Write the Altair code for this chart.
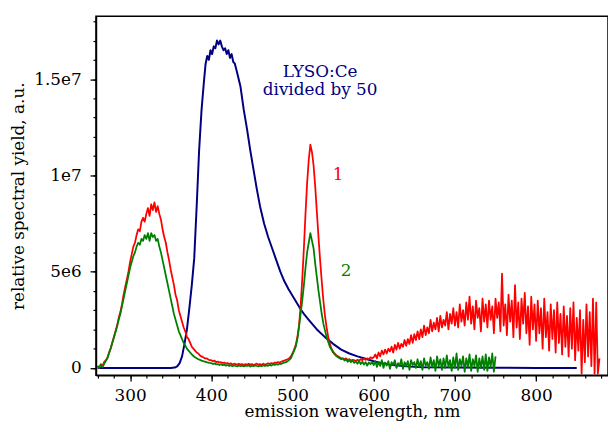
import altair as alt
import pandas as pd

# ---------------- data (values in units of 1e6) ----------------
red_wl = list(range(260, 880, 2))      # 260 .. 878 nm
red_y = [
    0.1, 0.0, 0.2, 0.1, 0.3, 0.4, 0.5, 0.8, 1.0, 1.3,
    1.6, 1.9, 2.2, 2.6, 2.9, 3.3, 3.8, 4.2, 4.6, 5.0,
    5.5, 5.9, 6.3, 6.5, 6.9, 7.2, 7.1, 7.6, 7.8, 7.6,
    8.0, 8.3, 7.9, 8.5, 8.2, 8.6, 8.1, 8.4, 8.0, 7.7,
    7.2, 6.8, 6.5, 6.0, 5.6, 5.1, 4.7, 4.3, 3.8, 3.5,
    3.0, 2.7, 2.4, 2.1, 1.9, 1.6, 1.5, 1.3, 1.1, 1.0,
    0.9, 0.8, 0.75, 0.65, 0.6, 0.55, 0.5, 0.5, 0.45, 0.4,
    0.4, 0.35, 0.38, 0.3, 0.33, 0.28, 0.3, 0.25, 0.28, 0.22,
    0.25, 0.2, 0.24, 0.18, 0.22, 0.2, 0.16, 0.22, 0.18, 0.2,
    0.15, 0.2, 0.17, 0.22, 0.16, 0.2, 0.14, 0.19, 0.22, 0.16,
    0.2, 0.15, 0.22, 0.18, 0.2, 0.24, 0.2, 0.25, 0.22, 0.28,
    0.26, 0.3, 0.28, 0.32, 0.35, 0.38, 0.42, 0.45, 0.5, 0.6,
    0.75, 0.95, 1.2, 1.6, 2.2, 3.2, 4.6, 6.2, 8.0, 9.6,
    10.8, 11.6, 11.2, 10.5, 9.4, 8.1, 6.8, 5.6, 4.5, 3.5,
    2.7, 2.1, 1.6, 1.25, 1.0, 0.85, 0.75, 0.65, 0.6, 0.55,
    0.5, 0.48, 0.45, 0.5, 0.42, 0.45, 0.38, 0.42, 0.4, 0.36,
    0.42, 0.38, 0.45, 0.4, 0.48, 0.42, 0.5, 0.45, 0.55, 0.5,
    0.55, 0.7, 0.5, 0.8, 0.6, 0.9, 0.7, 0.95, 0.75, 1.0,
    0.85, 1.1, 0.8, 1.2, 0.95, 1.3, 1.0, 1.25, 1.1, 1.45,
    1.15, 1.5, 1.25, 1.7, 1.3, 1.75, 1.45, 1.9, 1.5, 2.0,
    1.6, 2.2, 1.7, 2.1, 1.8, 2.5, 1.9, 2.35, 2.0, 2.6,
    1.9, 2.7, 2.1, 2.5, 2.2, 2.9, 2.0, 2.8, 2.3, 3.1,
    2.2, 2.9, 2.1, 3.3, 2.4, 3.0, 2.2, 3.4, 2.5, 3.7,
    2.3, 3.2, 2.0, 3.5, 2.6, 3.1, 1.9, 3.6, 2.4, 3.3,
    2.1, 3.5, 2.5, 3.2, 1.8, 3.6, 2.6, 3.4, 1.9, 4.9,
    2.2, 3.3, 1.7, 3.8, 2.4, 3.5, 1.6, 4.3, 2.1, 3.4,
    1.5, 3.6, 2.3, 3.9, 1.8, 3.2, 1.2, 3.7, 2.0, 3.3,
    1.4, 3.5, 1.8, 3.1, 1.0, 3.6, 1.6, 2.9, 0.9, 3.3,
    1.5, 3.0, 0.8, 3.4, 1.3, 2.8, 0.7, 3.2, 1.1, 2.7,
    0.6, 3.1, 1.0, 3.4, 0.4, 2.6, 0.9, 3.0, -0.3, 2.5,
    0.3, 3.3, 0.6, 2.9, 0.1, 3.6, -0.3, 3.4, -0.3, 0.5,
]

green_wl = list(range(260, 752, 2))    # 260 .. 750 nm
green_y = [
    0.1, 0.0, 0.15, 0.05, 0.2, 0.35, 0.5, 0.75, 1.0, 1.3,
    1.55, 1.85, 2.15, 2.5, 2.8, 3.2, 3.6, 4.0, 4.4, 4.8,
    5.2, 5.5, 5.8, 6.0, 6.3, 6.5, 6.4, 6.7, 6.6, 6.9,
    6.7, 7.0, 6.6, 7.0, 6.8, 6.9, 6.6, 6.7, 6.3, 6.0,
    5.6, 5.2, 4.8, 4.4, 4.0, 3.6, 3.2, 2.8, 2.5, 2.2,
    1.9, 1.7, 1.5, 1.3, 1.15, 1.0, 0.9, 0.8, 0.7, 0.62,
    0.55, 0.5, 0.45, 0.42, 0.38, 0.35, 0.33, 0.3, 0.28, 0.26,
    0.25, 0.2, 0.24, 0.18, 0.2, 0.15, 0.19, 0.14, 0.17, 0.12,
    0.15, 0.1, 0.14, 0.09, 0.13, 0.1, 0.08, 0.13, 0.09, 0.12,
    0.08, 0.12, 0.1, 0.14, 0.07, 0.12, 0.09, 0.13, 0.1, 0.08,
    0.12, 0.09, 0.14, 0.1, 0.13, 0.11, 0.16, 0.12, 0.18, 0.15,
    0.2, 0.17, 0.22, 0.2, 0.25, 0.28, 0.3, 0.35, 0.42, 0.5,
    0.7, 0.9, 1.1, 1.5, 2.1, 2.8, 3.5, 4.3, 5.2, 6.0,
    6.5, 7.0, 6.6, 6.2, 5.4, 4.7, 4.0, 3.4, 2.8, 2.3,
    1.95, 1.6, 1.35, 1.1, 0.95, 0.8, 0.7, 0.62, 0.55, 0.5,
    0.45, 0.5, 0.38, 0.45, 0.32, 0.4, 0.3, 0.38, 0.26, 0.34,
    0.22, 0.36, 0.2, 0.32, 0.18, 0.3, 0.12, 0.28, 0.2, 0.3,
    0.15, 0.35, 0.05, 0.3, 0.1, 0.4, 0.0, 0.28, 0.12, 0.35,
    -0.05, 0.3, 0.15, 0.4, 0.0, 0.25, 0.1, 0.45, -0.05, 0.3,
    0.1, 0.35, -0.1, 0.4, 0.15, 0.3, 0.0, 0.45, 0.05, 0.35,
    -0.1, 0.5, 0.1, 0.3, -0.05, 0.55, 0.05, 0.4, -0.15, 0.6,
    0.1, 0.45, -0.1, 0.5, 0.0, 0.65, 0.05, 0.4, -0.15, 0.55,
    0.0, 0.75, -0.1, 0.45, 0.1, 0.6, -0.2, 0.5, 0.05, 0.7,
    -0.15, 0.45, 0.1, 0.65, -0.2, 0.5, 0.0, 0.6, -0.1, 0.7,
    -0.15, 0.55, 0.05, 0.75, -0.2, 0.6,
]

blue_wl = [260, 300, 340, 350, 355, 358, 361, 364, 367, 370, 373, 376, 379,
           382, 385, 388, 391, 393, 395, 397, 399, 401, 403, 405, 407, 409,
           411, 413, 415, 417, 419, 421, 423, 425, 427, 429, 432, 436, 440,
           444, 448, 452, 456, 460, 465, 470, 475, 480, 485, 490, 495, 500,
           505, 510, 515, 520, 525, 530, 540, 550, 560, 570, 580, 590, 600,
           610, 620, 640, 660, 700, 750, 800, 850]
blue_y = [0.0, 0.0, 0.0, 0.0, 0.02, 0.08, 0.25, 0.6, 1.25, 2.0, 3.1, 4.3, 5.7,
          8.4, 11.3, 13.4, 14.9, 15.8, 16.2, 16.0, 16.5, 16.3, 16.7, 16.6,
          17.0, 16.8, 17.0, 16.7, 16.5, 16.6, 16.3, 16.5, 16.1, 16.3, 15.9,
          15.8, 15.3, 14.6, 13.4, 12.4, 11.3, 10.3, 9.3, 8.4, 7.5, 6.8, 6.2,
          5.6, 5.0, 4.5, 4.1, 3.75, 3.4, 3.05, 2.75, 2.5, 2.25, 2.0, 1.6,
          1.25, 0.95, 0.75, 0.6, 0.48, 0.35, 0.25, 0.17, 0.08, 0.04, 0.02,
          0.01, 0.0, 0.0]

x_major = [300, 400, 500, 600, 700, 800]
x_minor = list(range(260, 881, 20))
y_major = [0, 5, 10, 15]
y_major_labels = ["0", "5e6", "1e7", "1.5e7"]
y_minor = list(range(0, 19))

note_wl = [534, 534]
note_y = [15.35, 14.45]
note_text = ["LYSO:Ce", "divided by 50"]

FONT = "DejaVu Serif"
FS = 17

red_df = pd.DataFrame({"wl": red_wl, "y": red_y})
green_df = pd.DataFrame({"wl": green_wl, "y": green_y})
blue_df = pd.DataFrame({"wl": blue_wl, "y": blue_y})
note_df = pd.DataFrame({"wl": note_wl, "y": note_y, "t": note_text})
lab1_df = pd.DataFrame({"wl": [556], "y": [10.0], "t": ["1"]})
lab2_df = pd.DataFrame({"wl": [566], "y": [5.05], "t": ["2"]})

xs = alt.Scale(domain=[258, 888.5], nice=False, zero=False)
ys = alt.Scale(domain=[-0.375, 18.26], nice=False, zero=False)

ylabel_expr = " : ".join(
    f"datum.value === {v} ? '{t}'" for v, t in zip(y_major, y_major_labels)
) + " : ''"

x_axis = alt.Axis(
    orient="bottom", values=x_major, tickSize=6,
    tickColor="black", tickWidth=1.3, domainColor="black", domainWidth=1.5,
    labelFont=FONT, labelFontSize=FS, labelColor="black", labelPadding=7,
    labelOverlap=False, labelFlush=False,
    titleFont=FONT, titleFontSize=FS, titleFontWeight="normal",
    titleColor="black", titlePadding=0, grid=False,
)
y_axis = alt.Axis(
    orient="left", values=y_major, labelExpr=ylabel_expr, tickSize=6,
    tickColor="black", tickWidth=1.3, domainColor="black", domainWidth=1.5,
    labelFont=FONT, labelFontSize=FS, labelColor="black", labelPadding=9,
    labelOverlap=False, labelFlush=False,
    titleFont=FONT, titleFontSize=FS, titleFontWeight="normal",
    titleColor="black", titlePadding=6, grid=False,
)
x_minor_axis = alt.Axis(orient="bottom", values=x_minor, labels=False, tickSize=3,
                        tickColor="black", tickWidth=1.2, domain=False,
                        title=None, grid=False)
y_minor_axis = alt.Axis(orient="left", values=y_minor, labels=False, tickSize=3,
                        tickColor="black", tickWidth=1.2, domain=False,
                        title=None, grid=False)

X_main = alt.X("wl:Q", scale=xs, axis=x_axis, title="emission wavelength, nm")
Y_main = alt.Y("y:Q", scale=ys, axis=y_axis, title="relative spectral yield, a.u.")
X_none = alt.X("wl:Q", scale=xs, axis=None)
Y_none = alt.Y("y:Q", scale=ys, axis=None)

minor = alt.Chart(blue_df).mark_line(opacity=0).encode(
    x=alt.X("wl:Q", scale=xs, axis=x_minor_axis),
    y=alt.Y("y:Q", scale=ys, axis=y_minor_axis),
)
blue = alt.Chart(blue_df).mark_line(color="#000080", strokeWidth=2.0, clip=True,
                                    strokeJoin="round").encode(x=X_main, y=Y_main)
red = alt.Chart(red_df).mark_line(color="#ff0000", strokeWidth=1.8, clip=True,
                                  strokeJoin="round").encode(x=X_none, y=Y_none)
green = alt.Chart(green_df).mark_line(color="#008000", strokeWidth=1.8, clip=True,
                                      strokeJoin="round").encode(x=X_none, y=Y_none)


def label_layer(df, color):
    return alt.Chart(df).mark_text(font=FONT, fontSize=FS, color=color,
                                   align="center", baseline="middle").encode(
        x=X_none, y=Y_none, text="t:N")


notes = label_layer(note_df, "#000080")
lab1 = label_layer(lab1_df, "#ff0000")
lab2 = label_layer(lab2_df, "#008000")

chart = alt.layer(minor, blue, red, green, notes, lab1, lab2).resolve_axis(
    x="independent", y="independent"
).properties(
    width=518, height=363,
    autosize=alt.AutoSizeParams(type="none"),
    padding={"left": 89, "top": 6, "right": 0, "bottom": 47},
    background="white",
).configure_view(stroke="black", strokeWidth=1.5)

chart.save("out.html", embed_options={"renderer": "svg", "actions": False})
